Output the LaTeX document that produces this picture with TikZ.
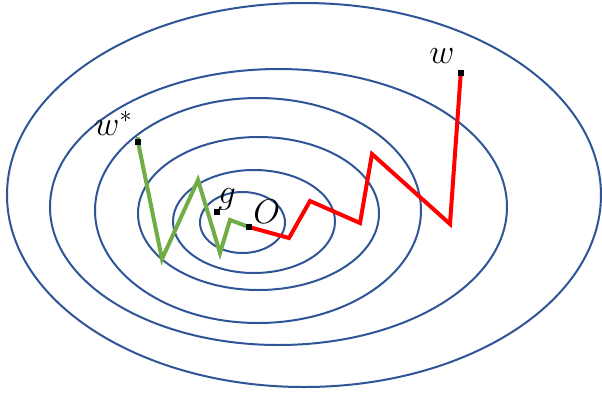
\documentclass[tikz,border=0pt]{standalone}
\definecolor{cblue}{HTML}{2F5597}
\definecolor{cgreen}{HTML}{70AD47}
\definecolor{cred}{HTML}{FF0000}
\begin{document}
\begin{tikzpicture}[x=0.5pt,y=-0.5pt,
  contour/.style={draw=cblue,line width=1pt},
  redpath/.style={draw=cred,line width=2pt,line join=miter},
  greenpath/.style={draw=cgreen,line width=2pt,line join=miter},
  marker/.style={fill=black,minimum size=2.6pt,inner sep=0pt,outer sep=0pt},
  lbl/.style={inner sep=0pt,font=\fontsize{17}{20}\selectfont}]
\useasboundingbox (0,0) rectangle (602,393);
% contours
\draw[contour] (242.5,222.5) ellipse [x radius=42.5, y radius=30.5];
\draw[contour] (254,221.5) ellipse [x radius=81, y radius=51.5];
\draw[contour] (258.5,213.5) ellipse [x radius=120.5, y radius=76.5];
\draw[contour] (258,210.5) ellipse [x radius=163, y radius=112.5];
\draw[contour] (278.5,207) ellipse [x radius=228.5, y radius=138];
\draw[contour] (304,195) ellipse [x radius=297, y radius=192];
% path points
\coordinate (g1) at (162,259);
\coordinate (g2) at (198,180);
\coordinate (g3) at (220,253);
\coordinate (g4) at (230,220);
\coordinate (r1) at (289,238);
\coordinate (r2) at (310,201);
\coordinate (r3) at (360,223);
\coordinate (r4) at (372,154);
\coordinate (r5) at (450,224);
\coordinate (rtop) at (461,70);
% markers
\node[marker] (wsmark) at (138,142) {};
\node[marker] (gmark) at (217,212) {};
\node[marker] (omark) at (249,227) {};
\node[marker] (wmark) at (461,73) {};
% paths
\draw[greenpath] (138,137) -- (wsmark.center) -- (g1) -- (g2) -- (g3) -- (g4) -- (omark.center);
\draw[redpath] (omark.center) -- (r1) -- (r2) -- (r3) -- (r4) -- (r5) -- (rtop);
\node[marker] at (wsmark) {};
\node[marker] at (gmark) {};
\node[marker] at (omark) {};
\node[marker] at (wmark) {};
% labels
\node[lbl,anchor=base west] (wslbl) at (94,135) {$w^*$};
\node[lbl,anchor=base west] (wlbl) at (429,63) {$w$};
\node[lbl,anchor=base west] (glbl) at (218,203) {$g$};
\node[lbl,anchor=base west] (olbl) at (253,223) {$O$};
\end{tikzpicture}
\end{document}
